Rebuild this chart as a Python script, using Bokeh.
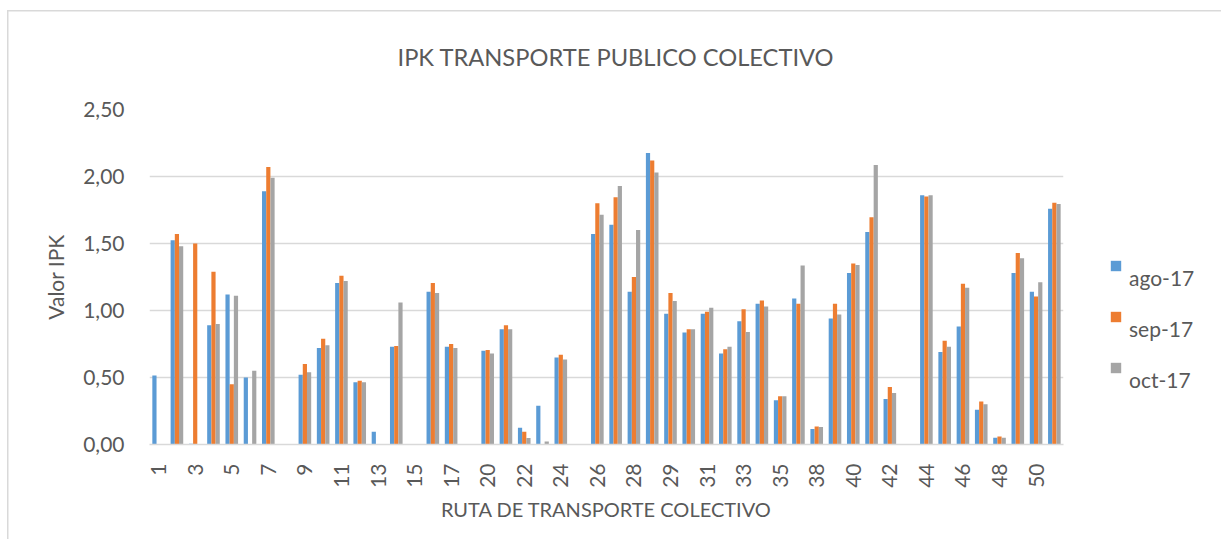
import numpy as np
from bokeh.plotting import figure
from bokeh.models import ColumnDataSource, Range1d, FixedTicker, Legend, LegendItem
from bokeh.transform import dodge
from bokeh.embed import file_html
from bokeh.resources import INLINE

# ---------------- data ----------------
routes = ["1", "2", "3", "4", "5", "6", "7", "8", "9", "10",
          "11", "12", "13", "14", "15", "16", "17", "18", "20", "21",
          "22", "23", "24", "25", "26", "27", "28", "28B", "29", "30",
          "31", "32", "33", "34", "35", "36", "38", "39", "40", "41",
          "42", "43", "44", "45", "46", "47", "48", "49", "50", "51"]

ago_17 = [0.515, 1.525, 0.005, 0.89, 1.12, 0.50, 1.89, 0.0, 0.52, 0.72,
          1.205, 0.465, 0.095, 0.73, 0.0, 1.14, 0.73, 0.0, 0.70, 0.86,
          0.125, 0.29, 0.65, 0.0, 1.57, 1.64, 1.14, 2.175, 0.975, 0.835,
          0.975, 0.68, 0.92, 1.05, 0.33, 1.09, 0.115, 0.94, 1.28, 1.585,
          0.34, 0.0, 1.86, 0.69, 0.88, 0.26, 0.05, 1.28, 1.14, 1.76]

sep_17 = [0.0, 1.57, 1.50, 1.29, 0.45, 0.0, 2.07, 0.0, 0.60, 0.79,
          1.26, 0.475, 0.0, 0.735, 0.0, 1.205, 0.75, 0.0, 0.705, 0.89,
          0.095, 0.0, 0.67, 0.0, 1.80, 1.845, 1.25, 2.12, 1.13, 0.86,
          0.99, 0.71, 1.01, 1.075, 0.36, 1.05, 0.135, 1.05, 1.35, 1.695,
          0.43, 0.0, 1.85, 0.775, 1.20, 0.32, 0.06, 1.43, 1.105, 1.805]

oct_17 = [0.0, 1.48, 0.0, 0.90, 1.11, 0.55, 1.99, 0.0, 0.54, 0.74,
          1.22, 0.465, 0.0, 1.06, 0.0, 1.13, 0.72, 0.0, 0.68, 0.86,
          0.048, 0.022, 0.635, 0.0, 1.715, 1.93, 1.60, 2.03, 1.07, 0.86,
          1.02, 0.73, 0.84, 1.03, 0.36, 1.335, 0.13, 0.97, 1.34, 2.085,
          0.385, 0.0, 1.86, 0.73, 1.17, 0.30, 0.05, 1.39, 1.21, 1.795]

series_names = ["ago-17", "sep-17", "oct-17"]
series_colors = ["#5B9BD5", "#ED7D31", "#A5A5A5"]

y_ticks = [0.0, 0.5, 1.0, 1.5, 2.0, 2.5]
y_tick_labels = ["0,00", "0,50", "1,00", "1,50", "2,00", "2,50"]

title_text = "IPK TRANSPORTE PUBLICO COLECTIVO"
x_title = "RUTA DE TRANSPORTE COLECTIVO"
y_title = "Valor IPK"

# ---------------- figure ----------------
FONT = "Lato"
TXT = "#595959"
GRID = "#d9d9d9"

idx = list(range(len(routes)))
source = ColumnDataSource(dict(idx=idx, route=routes, ago=ago_17, sep=sep_17, oct=oct_17))

p = figure(width=1205, height=539, output_backend="svg", toolbar_location=None,
           x_range=Range1d(-0.5, len(routes) - 0.5), y_range=Range1d(0, 2.5),
           min_border_left=149, min_border_right=142, min_border_top=109, min_border_bottom=95,
           frame_width=914, frame_height=335,
           title=title_text)
p.styles = {
    "background-image": "linear-gradient(#d9d9d9, #d9d9d9), linear-gradient(#d9d9d9, #d9d9d9)",
    "background-size": "1.5px 100%, 100% 1.5px",
    "background-position": "7px 10px, 7px 10px",
    "background-repeat": "no-repeat",
}

bw = 0.23
fields = ["ago", "sep", "oct"]
offsets = [-bw, 0.0, bw]
renderers = []
for f, off, col in zip(fields, offsets, series_colors):
    r = p.vbar(x=dodge("idx", off), top=f, width=bw, bottom=0, source=source,
               fill_color=col, line_color=None)
    renderers.append(r)

# title
p.title.text_font = FONT
p.title.text_font_size = "23.7px"
p.title.text_font_style = "normal"
p.title.text_color = TXT
p.title.align = "left"
p.title.offset = 248
p.title.standoff = 78

# axes
xa = p.xaxis[0]
xa.ticker = FixedTicker(ticks=idx[::2])
xa.major_label_overrides = {i: routes[i] for i in idx}
xa.major_label_orientation = np.pi / 2
xa.major_tick_line_color = None
xa.minor_tick_line_color = None
xa.axis_line_color = GRID
xa.axis_line_width = 1.5
xa.major_label_text_font = FONT
xa.major_label_text_font_size = "21px"
xa.major_label_text_color = TXT
xa.major_label_standoff = 13
xa.axis_label = x_title
xa.axis_label_text_font = FONT
xa.axis_label_text_font_size = "20px"
xa.axis_label_text_font_style = "normal"
xa.axis_label_text_color = TXT
xa.axis_label_standoff = 6

ya = p.yaxis[0]
ya.ticker = FixedTicker(ticks=y_ticks)
ya.major_label_overrides = {t: l for t, l in zip(y_ticks, y_tick_labels)}
ya.major_tick_line_color = None
ya.minor_tick_line_color = None
ya.axis_line_color = None
ya.major_label_text_font = FONT
ya.major_label_text_font_size = "21px"
ya.major_label_text_color = TXT
ya.major_label_standoff = 19
ya.axis_label = y_title
ya.axis_label_text_font = FONT
ya.axis_label_text_font_size = "21px"
ya.axis_label_text_font_style = "normal"
ya.axis_label_text_color = TXT
ya.axis_label_standoff = 12

p.xgrid.grid_line_color = None
p.ygrid.grid_line_color = GRID
p.ygrid.grid_line_width = 1.5
p.outline_line_color = None
p.background_fill_color = "white"
p.border_fill_color = None

# legend: label text sits a little below its colour square, as in the original
legend = Legend(items=[LegendItem(label="\n" + n, renderers=[r]) for n, r in zip(series_names, renderers)],
                location=(46, 52))
legend.orientation = "vertical"
legend.label_text_font = FONT
legend.label_text_font_size = "21px"
legend.label_text_color = TXT
legend.label_text_line_height = 0.85
legend.glyph_width = 13
legend.glyph_height = 13
legend.label_height = 13
legend.label_standoff = 7
legend.spacing = 1
legend.padding = 0
legend.margin = 0
legend.border_line_color = None
legend.background_fill_alpha = 0
p.add_layout(legend, "right")

open("out.html", "w").write(file_html(p, INLINE))
